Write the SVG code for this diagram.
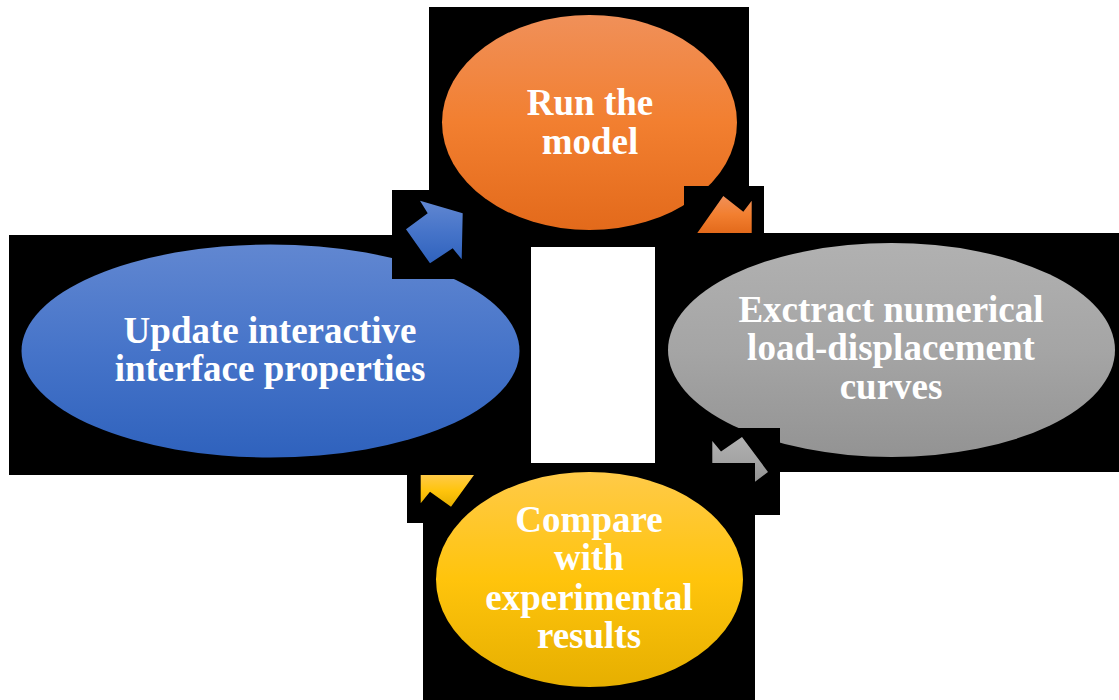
<svg xmlns="http://www.w3.org/2000/svg" width="1119" height="700" viewBox="0 0 1119 700">
<style>
.box{fill:#000}
.lbl{font-family:"Liberation Serif","Times New Roman",serif;font-weight:bold;font-size:37px;fill:#fff;text-anchor:middle}
</style>
<defs>
<linearGradient id="gOrange" x1="0" y1="0" x2="0" y2="1"><stop offset="0" stop-color="#F09059"/><stop offset="0.5" stop-color="#F27F30"/><stop offset="1" stop-color="#E36A1B"/></linearGradient>
<linearGradient id="gBlue" x1="0" y1="0" x2="0" y2="1"><stop offset="0" stop-color="#6187D1"/><stop offset="0.5" stop-color="#4674C9"/><stop offset="1" stop-color="#2F62BD"/></linearGradient>
<linearGradient id="gGray" x1="0" y1="0" x2="0" y2="1"><stop offset="0" stop-color="#B1B1B1"/><stop offset="0.5" stop-color="#A5A5A5"/><stop offset="1" stop-color="#939393"/></linearGradient>
<linearGradient id="gYellow" x1="0" y1="0" x2="0" y2="1"><stop offset="0" stop-color="#FFCA48"/><stop offset="0.5" stop-color="#FFC40C"/><stop offset="1" stop-color="#E6AF00"/></linearGradient>
</defs>
<rect width="1119" height="700" fill="#fff"/>
<g id="node-run">
<rect class="box" x="429" y="7" width="320" height="240"/>
<ellipse cx="589.5" cy="122.5" rx="147.5" ry="107.5" fill="url(#gOrange)"/>
<text class="lbl" x="590" y="115">Run the</text>
<text class="lbl" x="590" y="154">model</text>
</g>
<g id="node-update">
<rect class="box" x="9" y="235" width="522" height="240"/>
<ellipse cx="270.5" cy="351" rx="249" ry="106.5" fill="url(#gBlue)"/>
<text class="lbl" x="270" y="343">Update interactive</text>
<text class="lbl" x="270" y="381">interface properties</text>
</g>
<g id="node-extract">
<rect class="box" x="655" y="233" width="464" height="239"/>
<ellipse cx="891.5" cy="350" rx="223.5" ry="107" fill="url(#gGray)"/>
<text class="lbl" x="891" y="322">Exctract numerical</text>
<text class="lbl" x="891" y="360">load-displacement</text>
<text class="lbl" x="891" y="399">curves</text>
</g>
<g id="connectors">
<rect class="box" x="392" y="190" width="74" height="89"/>
<polygon points="420,200.7 462.7,213.3 461.7,259.3 452.7,248.3 430,263.3 406,229.3 427.7,213.3" fill="url(#gBlue)"/>
<rect class="box" x="684" y="186" width="80" height="47"/>
<polygon points="723.3,196 743.3,211.7 751.7,200.7 751.7,233 697.3,233" fill="url(#gOrange)"/>
<rect class="box" x="700" y="428" width="80" height="87"/>
<polygon points="712.3,441 721,451.5 742,437 768,472 755,481.7 755,463 712.3,463" fill="url(#gGray)"/>
</g>
<g id="node-compare">
<rect class="box" x="423" y="463" width="332" height="237"/>
<rect class="box" x="407" y="473" width="82" height="50"/>
<polygon points="420.7,475 474,475 451,506.7 430,491.7 420.7,503.3" fill="url(#gYellow)"/>
<ellipse cx="589.5" cy="579.5" rx="153.5" ry="107.5" fill="url(#gYellow)"/>
<text class="lbl" x="589" y="532">Compare</text>
<text class="lbl" x="589" y="570">with</text>
<text class="lbl" x="589" y="610">experimental</text>
<text class="lbl" x="589" y="648">results</text>
</g>
</svg>
